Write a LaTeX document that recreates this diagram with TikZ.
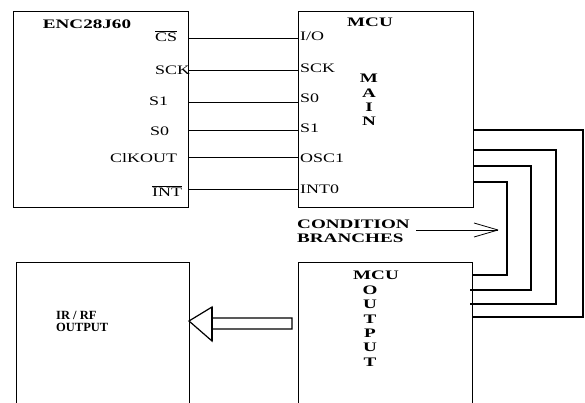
\documentclass[tikz,border=0pt]{standalone}
\usepackage{fontspec}
\setmainfont{Liberation Serif}[FakeStretch=1.38,BoldFeatures={FakeStretch=1.47}]
\newfontfamily\plainserif{Liberation Serif}
\begin{document}
\begin{tikzpicture}[x=1pt,y=-1pt,
  box/.style={draw, line width=1.2pt, inner sep=0pt, anchor=north west},
  pin/.style={font=\fontsize{13}{13}\selectfont, inner sep=0pt, anchor=west},
  ttl/.style={font=\fontsize{13}{14}\selectfont\bfseries, inner sep=0pt},
  wire/.style={line width=0.8pt},
  loopline/.style={line width=2.6pt, line join=miter}]
\clip (0,0) rectangle (585,403);
% boxes
\node[box, minimum width=175pt, minimum height=196pt] (enc) at (13,11) {};
\node[box, minimum width=175pt, minimum height=196pt] (mcu) at (298,11) {};
\node[box, minimum width=174pt, minimum height=160pt] (out) at (298,262) {};
\node[box, minimum width=173pt, minimum height=160pt] (ir) at (16,262) {};
% titles
\node[ttl] (encT) at (87,24) {ENC28J60};
\node[ttl] (mcuT) at (370,22) {MCU};
\node[ttl, align=center, font=\fontsize{13}{14.2}\selectfont\bfseries] (mainT) at (369,100) {M\\A\\I\\N};
\node[ttl] (outT) at (376,275) {MCU};
\node[ttl, align=center, font=\fontsize{13}{14.4}\selectfont\bfseries] (outV) at (370,326) {O\\U\\T\\P\\U\\T};
\node[inner sep=0pt, anchor=west, align=left, font=\fontsize{12.5}{12}\selectfont\plainserif\bfseries] (irT) at (56,321) {IR / RF\\OUTPUT};
\node[ttl, anchor=west, align=left] (cond) at (297,231) {CONDITION\\BRANCHES};
% ENC pins
\node[pin] (eCS) at (155,36) {$\overline{\mbox{CS}}$};
\node[pin] (eSCK) at (155,70) {SCK};
\node[pin] (eS1) at (149,101) {S1};
\node[pin] (eS0) at (150,131) {S0};
\node[pin] (eCLK) at (110,158) {ClKOUT};
\node[pin] (eINT) at (152,191) {$\overline{\mbox{INT}}$};
% MCU pins
\node[pin] (mIO) at (300,36) {I/O};
\node[pin] (mSCK) at (300,68) {SCK};
\node[pin] (mS0) at (300,98) {S0};
\node[pin] (mS1) at (300,128) {S1};
\node[pin] (mOSC) at (300,158) {OSC1};
\node[pin] (mINT) at (300,189) {INT0};
% wire coordinates
\coordinate (w1) at (188,38);
\coordinate (w2) at (188,70);
\coordinate (w3) at (188,102);
\coordinate (w4) at (188,130);
\coordinate (w5) at (188,157);
\coordinate (w6) at (188,189);
\foreach \w in {w1,w2,w3,w4,w5,w6}
  \draw[wire] (\w) -- (mcu.west |- \w);
% loops
\coordinate (a1) at (473,130); \coordinate (k1) at (583,200); \coordinate (b1) at (472,317);
\coordinate (a2) at (473,150); \coordinate (k2) at (556,200); \coordinate (b2) at (470,304);
\coordinate (a3) at (473,166); \coordinate (k3) at (531,200); \coordinate (b3) at (470,290);
\coordinate (a4) at (473,182); \coordinate (k4) at (507,200); \coordinate (b4) at (472,275);
\draw[loopline] (a1) -| (k1) |- (b1);
\draw[loopline] (a2) -| (k2) |- (b2);
\draw[loopline] (a3) -| (k3) |- (b3);
\draw[loopline] (a4) -| (k4) |- (b4);
% condition arrow
\coordinate (cs) at (416,230);
\coordinate (ct) at (498,230);
\draw[wire] (cs) -- (ct);
\draw[wire] (ct) -- ++(-24,-7);
\draw[wire] (ct) -- ++(-24,7);
% hollow arrow
\coordinate (tip) at (189,321);
\draw[line width=1.2pt, line join=miter] (292,318) -- (212,318) -- (212,307) -- (tip) -- (212,341) -- (212,329) -- (292,329) -- cycle;
\draw[line width=2.4pt] (212,307) -- (212,341);
\end{tikzpicture}
\end{document}
